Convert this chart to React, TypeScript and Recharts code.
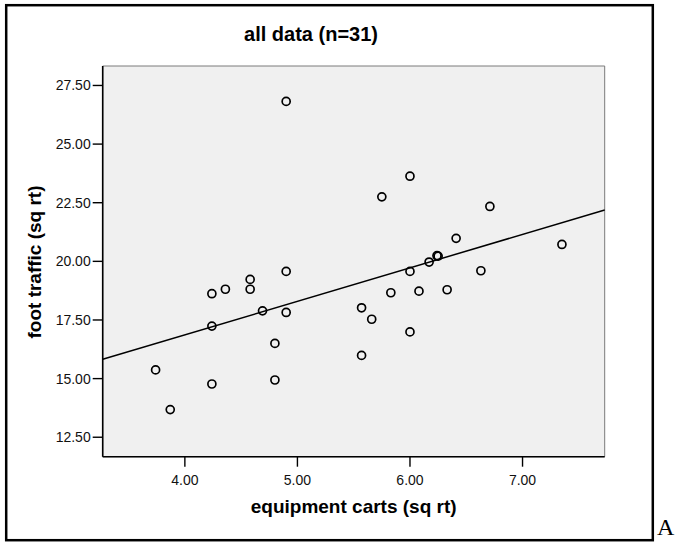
import React from 'react';
import {
  ScatterChart,
  Scatter,
  XAxis,
  YAxis,
  ReferenceArea,
  ReferenceLine,
} from 'recharts';

// square-root transformed counts, one entry per site (n=31)
const cartsSqrt = [
  3.74, 3.87, 4.24, 4.24, 4.24, 4.36, 4.58, 4.58, 4.69, 4.8, 4.8,
  4.9, 4.9, 4.9, 5.57, 5.66, 5.57, 5.75, 5.83, 6.0, 6.0, 6.0,
  6.08, 6.17, 6.24, 6.25, 6.33, 6.41, 6.63, 6.71, 7.35,
];
const trafficSqrt = [
  15.37, 13.68, 18.62, 17.24, 14.77, 18.81, 19.23, 18.81, 17.89, 16.5, 14.94,
  26.82, 19.57, 17.82, 18.02, 17.53, 15.99, 22.75, 18.66, 23.63, 19.57, 16.99,
  18.73, 19.97, 20.24, 20.22, 18.79, 20.98, 19.6, 22.34, 20.72,
];

const xTicks = [4, 5, 6, 7];
const yTicks = [12.5, 15, 17.5, 20, 22.5, 25, 27.5];
const xDomain: [number, number] = [3.27, 7.73];
const yDomain: [number, number] = [11.67, 28.33];

const points = cartsSqrt.map((x, i) => ({ x, y: trafficSqrt[i] }));

// least-squares fit line across the whole x range
const fit = (() => {
  const n = points.length;
  const mx = points.reduce((s, p) => s + p.x, 0) / n;
  const my = points.reduce((s, p) => s + p.y, 0) / n;
  let sxy = 0;
  let sxx = 0;
  points.forEach((p) => {
    sxy += (p.x - mx) * (p.y - my);
    sxx += (p.x - mx) * (p.x - mx);
  });
  const slope = sxy / sxx;
  const intercept = my - slope * mx;
  return xDomain.map((x) => ({ x, y: intercept + slope * x }));
})();

const FONT = '"Liberation Sans", Arial, sans-serif';

const OpenDot = (props: any) => (
  <circle cx={props.cx} cy={props.cy} r={4} fill="none" stroke="#000" strokeWidth={1.7} />
);

export default function App() {
  return (
    <div style={{ position: 'absolute', left: 0, top: 0, width: 676, height: 542, background: '#fff' }}>
      <ScatterChart
        width={676}
        height={542}
        margin={{ top: 66, right: 71.3, bottom: 45.3, left: 42.7 }}
        style={{ fontFamily: FONT }}
      >
        <rect x={6.2} y={5.2} width={646.6} height={535} fill="none" stroke="#000" strokeWidth={2.5} />
        <ReferenceArea
          x1={xDomain[0]}
          x2={xDomain[1]}
          y1={yDomain[0]}
          y2={yDomain[1]}
          fill="#f0f0f0"
          fillOpacity={1}
          stroke="#7a7a7a"
          strokeWidth={1}
        />
        <XAxis
          type="number"
          dataKey="x"
          domain={xDomain}
          ticks={xTicks}
          allowDataOverflow
          height={40}
          tickSize={10}
          tickMargin={8}
          tickFormatter={(v: number) => v.toFixed(2)}
          axisLine={{ stroke: '#000', strokeWidth: 1.6 }}
          tickLine={{ stroke: '#000', strokeWidth: 1.4 }}
          tick={{ fill: '#111', fontSize: 14, fontFamily: FONT }}
        />
        <YAxis
          type="number"
          dataKey="y"
          domain={yDomain}
          ticks={yTicks}
          allowDataOverflow
          width={60}
          tickSize={10}
          tickMargin={2}
          tickFormatter={(v: number) => v.toFixed(2)}
          axisLine={{ stroke: '#000', strokeWidth: 1.6 }}
          tickLine={{ stroke: '#000', strokeWidth: 1.4 }}
          tick={{ fill: '#111', fontSize: 14, fontFamily: FONT }}
        />
        <ReferenceLine segment={fit} stroke="#000" strokeWidth={1.5} />
        <Scatter data={points} shape={OpenDot} isAnimationActive={false} />
        <text x={311} y={41} textAnchor="middle" fontFamily={FONT} fontWeight="bold" fontSize={20} fill="#000">
          all data (n=31)
        </text>
        <text x={353.7} y={513} textAnchor="middle" fontFamily={FONT} fontWeight="bold" fontSize={19} fill="#000">
          equipment carts (sq rt)
        </text>
        <text
          x={41}
          y={262}
          textAnchor="middle"
          transform="rotate(-90 41 262)"
          fontFamily={FONT}
          fontWeight="bold"
          fontSize={19}
          fill="#000"
        >
          foot traffic (sq rt)
        </text>
        <text x={657} y={535} fontFamily='"Liberation Serif", "Times New Roman", serif' fontSize={24} fill="#000">
          A
        </text>
      </ScatterChart>
    </div>
  );
}
